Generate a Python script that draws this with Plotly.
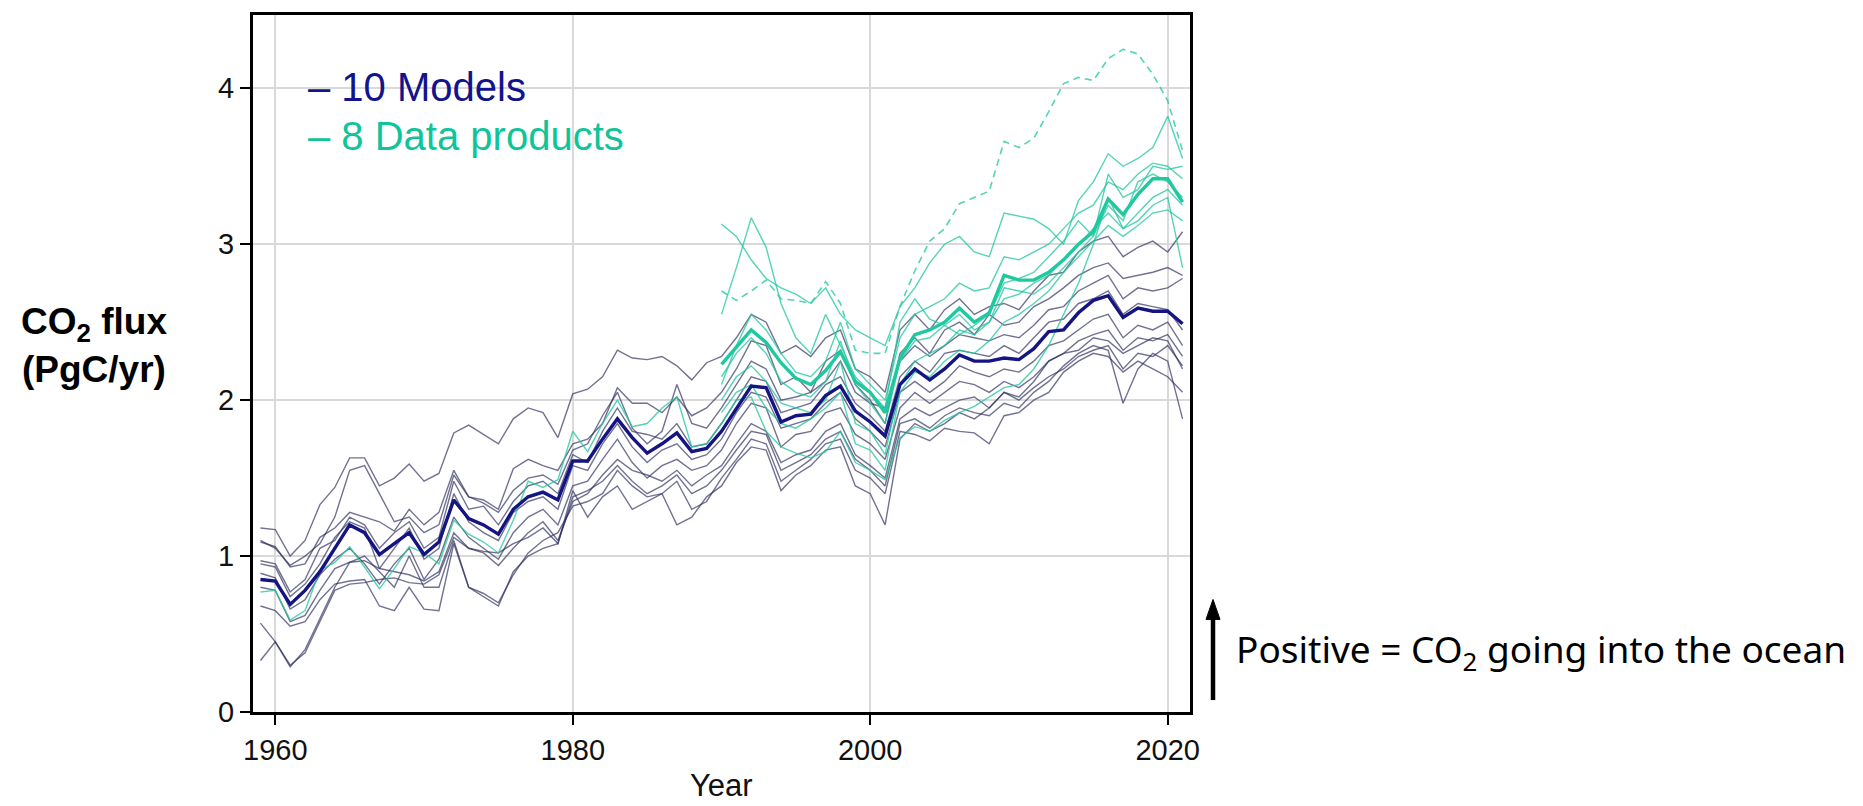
import plotly.graph_objects as go

W, H = 1863, 806
# plot area in page pixels
PL, PR, PT, PB = 253, 1190, 12, 712

years = list(range(1959, 2022))
years_dp = list(range(1990, 2022))

model_mean = [0.85, 0.84, 0.69, 0.78, 0.90, 1.05, 1.20, 1.15, 1.01, 1.08, 1.15, 1.01, 1.09, 1.36, 1.24, 1.20,
              1.14, 1.30, 1.38, 1.41, 1.36, 1.61, 1.61, 1.75, 1.88, 1.76, 1.66, 1.72, 1.79, 1.67, 1.69, 1.80,
              1.95, 2.09, 2.08, 1.86, 1.90, 1.91, 2.03, 2.09, 1.93, 1.86, 1.77, 2.10, 2.20, 2.13, 2.20, 2.29,
              2.25, 2.25, 2.27, 2.26, 2.33, 2.44, 2.45, 2.56, 2.64, 2.67, 2.53, 2.59, 2.57, 2.57, 2.49]

model_a = [1.18, 1.17, 1.00, 1.10, 1.33, 1.44, 1.63, 1.63, 1.45, 1.50, 1.59, 1.48, 1.53, 1.79, 1.84, 1.78,
           1.72, 1.88, 1.95, 1.92, 1.76, 2.04, 2.07, 2.15, 2.32, 2.27, 2.26, 2.28, 2.22, 2.13, 2.24, 2.28,
           2.40, 2.55, 2.50, 2.30, 2.35, 2.28, 2.40, 2.45, 2.20, 2.15, 2.05, 2.45, 2.55, 2.45, 2.58, 2.65,
           2.55, 2.60, 2.62, 2.58, 2.70, 2.80, 2.82, 2.95, 3.02, 3.05, 2.92, 2.98, 3.02, 2.95, 3.08]
model_b = [1.10, 1.05, 0.94, 1.00, 1.08, 1.25, 1.55, 1.58, 1.40, 1.22, 1.25, 1.15, 1.20, 1.52, 1.38, 1.36,
           1.30, 1.56, 1.62, 1.58, 1.55, 1.72, 1.75, 1.85, 2.08, 1.98, 1.98, 1.92, 2.02, 1.90, 1.95, 2.05,
           2.20, 2.38, 2.35, 2.10, 2.15, 2.05, 2.25, 2.32, 2.10, 2.00, 1.85, 2.30, 2.40, 2.30, 2.45, 2.50,
           2.42, 2.55, 2.48, 2.50, 2.60, 2.65, 2.72, 2.80, 2.85, 2.88, 2.78, 2.80, 2.82, 2.85, 2.80]
model_c = [1.09, 1.06, 0.93, 0.95, 1.12, 1.18, 1.28, 1.25, 1.22, 1.16, 1.30, 1.20, 1.28, 1.55, 1.38, 1.34,
           1.28, 1.42, 1.50, 1.52, 1.46, 1.68, 1.72, 1.90, 2.05, 1.82, 1.72, 1.80, 2.10, 1.85, 1.82, 1.95,
           2.10, 2.25, 2.20, 2.00, 2.02, 2.05, 2.12, 2.25, 2.05, 1.98, 1.95, 2.25, 2.35, 2.28, 2.35, 2.42,
           2.40, 2.38, 2.42, 2.40, 2.48, 2.58, 2.60, 2.70, 2.75, 2.80, 2.65, 2.72, 2.70, 2.72, 2.78]
model_d = [0.97, 0.95, 0.77, 0.85, 1.05, 1.10, 1.25, 1.20, 1.05, 1.15, 1.22, 1.05, 1.12, 1.48, 1.30, 1.32,
           1.20, 1.35, 1.45, 1.48, 1.40, 1.65, 1.60, 1.80, 1.95, 1.80, 1.78, 1.75, 1.85, 1.70, 1.72, 1.85,
           2.00, 2.15, 2.12, 1.92, 1.95, 1.98, 2.10, 2.15, 1.98, 1.90, 1.80, 2.15, 2.25, 2.18, 2.30, 2.32,
           2.30, 2.28, 2.35, 2.30, 2.40, 2.50, 2.52, 2.62, 2.65, 2.70, 2.55, 2.62, 2.60, 2.58, 2.45]
model_e = [0.95, 0.93, 0.74, 0.82, 0.95, 1.12, 1.22, 1.18, 0.92, 1.05, 1.18, 0.98, 1.05, 1.40, 1.22, 1.15,
           1.10, 1.28, 1.35, 1.38, 1.30, 1.58, 1.55, 1.72, 1.85, 1.70, 1.60, 1.68, 1.72, 1.62, 1.65, 1.75,
           1.92, 2.05, 2.02, 1.82, 1.85, 1.88, 1.98, 2.05, 1.88, 1.80, 1.70, 2.05, 2.12, 2.05, 2.12, 2.22,
           2.18, 2.15, 2.20, 2.18, 2.25, 2.35, 2.38, 2.45, 2.52, 2.55, 2.40, 2.48, 2.45, 2.50, 2.35]
model_f = [0.89, 0.86, 0.66, 0.72, 0.88, 0.98, 1.05, 0.95, 0.82, 0.95, 1.05, 0.85, 0.98, 1.25, 1.12, 1.05,
           0.98, 1.15, 1.25, 1.30, 1.20, 1.45, 1.48, 1.62, 1.75, 1.60, 1.50, 1.58, 1.62, 1.55, 1.58, 1.68,
           1.85, 1.98, 1.95, 1.70, 1.78, 1.80, 1.92, 1.95, 1.78, 1.72, 1.62, 1.95, 2.05, 1.98, 2.05, 2.12,
           2.10, 2.05, 2.12, 2.08, 2.15, 2.25, 2.30, 2.38, 2.42, 2.45, 2.32, 2.40, 2.38, 2.42, 2.28]
model_g = [0.80, 0.78, 0.58, 0.62, 0.78, 0.92, 0.96, 0.97, 0.92, 0.90, 0.88, 0.84, 0.90, 1.15, 1.05, 1.02,
           0.94, 1.05, 1.15, 1.22, 1.10, 1.35, 1.40, 1.52, 1.62, 1.55, 1.52, 1.48, 1.55, 1.45, 1.52, 1.58,
           1.72, 1.85, 1.80, 1.60, 1.65, 1.68, 1.80, 1.85, 1.65, 1.58, 1.50, 1.88, 1.95, 1.90, 1.95, 2.00,
           2.02, 1.95, 2.05, 2.00, 2.08, 2.15, 2.20, 2.28, 2.32, 2.35, 2.20, 2.30, 2.28, 2.35, 2.22]
model_h = [0.68, 0.65, 0.55, 0.58, 0.72, 0.82, 0.84, 0.85, 0.68, 0.65, 0.80, 0.66, 0.65, 1.08, 0.80, 0.76,
           0.70, 0.88, 1.02, 1.10, 1.15, 1.32, 1.35, 1.40, 1.55, 1.45, 1.38, 1.40, 1.48, 1.30, 1.35, 1.50,
           1.62, 1.75, 1.72, 1.48, 1.55, 1.62, 1.72, 1.75, 1.55, 1.50, 1.40, 1.80, 1.78, 1.74, 1.82, 1.80,
           1.79, 1.72, 1.90, 1.92, 2.00, 2.05, 2.18, 2.25, 2.30, 2.28, 2.18, 2.25, 2.20, 2.15, 2.05]
model_i = [0.57, 0.45, 0.30, 0.38, 0.58, 0.78, 0.82, 0.83, 0.85, 0.86, 0.83, 0.82, 0.88, 1.12, 1.05, 1.03,
           1.02, 1.08, 1.12, 1.18, 1.08, 1.38, 1.42, 1.48, 1.58, 1.48, 1.40, 1.45, 1.52, 1.40, 1.45, 1.55,
           1.68, 1.80, 1.78, 1.55, 1.60, 1.65, 1.75, 1.80, 1.62, 1.55, 1.45, 1.85, 1.88, 1.82, 1.90, 1.95,
           1.92, 1.90, 1.98, 1.95, 2.05, 2.12, 2.22, 2.30, 2.35, 2.32, 1.98, 2.20, 2.30, 2.25, 1.88]
model_j = [0.33, 0.45, 0.29, 0.40, 0.60, 0.80, 0.96, 1.00, 0.90, 0.80, 1.00, 0.80, 0.80, 1.10, 0.80, 0.74,
           0.68, 0.90, 1.00, 1.05, 1.08, 1.42, 1.25, 1.38, 1.45, 1.30, 1.35, 1.40, 1.20, 1.25, 1.38, 1.45,
           1.60, 1.70, 1.68, 1.42, 1.52, 1.58, 1.68, 1.70, 1.45, 1.40, 1.20, 1.75, 1.85, 1.80, 1.85, 1.92,
           1.88, 1.95, 2.05, 2.02, 2.12, 2.25, 2.30, 2.32, 2.40, 2.38, 2.30, 2.35, 2.40, 2.38, 2.20]

models = [model_a, model_b, model_c, model_d, model_e, model_f, model_g, model_h, model_i, model_j]

# data product with full coverage (1959-2021)
dp_full = [0.77, 0.78, 0.59, 0.65, 0.91, 0.96, 1.06, 0.93, 0.79, 0.92, 1.06, 1.02, 0.95, 1.23, 1.14, 1.09,
           1.02, 1.23, 1.48, 1.44, 1.49, 1.80, 1.67, 1.85, 2.00, 1.83, 1.85, 1.95, 2.02, 1.70, 1.72, 1.85,
           2.00, 2.02, 1.80, 1.70, 1.66, 1.63, 1.67, 1.80, 1.60, 1.55, 1.49, 1.76, 1.83, 1.80, 1.87, 1.92,
           1.96, 2.02, 2.08, 2.10, 2.20, 2.35, 2.55, 2.75, 3.00, 3.30, 3.10, 3.20, 3.30, 3.35, 3.25]

# data products 1990-2021
dp_dashed = [2.70, 2.64, 2.70, 2.77, 2.65, 2.64, 2.62, 2.76, 2.62, 2.32, 2.30, 2.30, 2.60, 2.83, 3.02, 3.10,
             3.26, 3.30, 3.34, 3.66, 3.62, 3.68, 3.85, 4.03, 4.07, 4.05, 4.19, 4.25, 4.22, 4.09, 3.92, 3.60]
dp_b = [3.13, 3.05, 2.90, 2.78, 2.72, 2.68, 2.62, 2.72, 2.55, 2.45, 2.40, 2.35, 2.60, 2.72, 2.88, 3.00,
        3.05, 2.95, 2.92, 3.20, 3.18, 3.16, 3.10, 3.00, 3.28, 3.40, 3.58, 3.50, 3.55, 3.62, 3.82, 3.55]
dp_c = [2.55, 2.85, 3.17, 2.98, 2.62, 2.40, 2.30, 2.55, 2.35, 2.15, 2.05, 1.95, 2.50, 2.65, 2.52, 2.48,
        2.42, 2.48, 2.55, 2.75, 2.78, 2.82, 2.92, 3.02, 3.15, 3.05, 3.45, 3.30, 3.35, 3.50, 3.48, 3.50]
dp_d = [2.15, 2.30, 2.40, 2.30, 2.12, 2.05, 2.02, 2.12, 2.38, 2.10, 1.98, 1.85, 2.25, 2.38, 2.40, 2.48,
        2.55, 2.45, 2.50, 2.72, 2.70, 2.68, 2.75, 2.85, 2.95, 3.05, 3.25, 3.15, 3.40, 3.45, 3.40, 3.30]
dp_e = [2.00, 2.15, 2.22, 2.12, 1.98, 1.95, 1.92, 2.00, 2.25, 1.85, 1.80, 1.65, 2.10, 2.25, 2.30, 2.35,
        2.45, 2.42, 2.50, 2.65, 2.68, 2.75, 2.80, 2.90, 3.00, 3.10, 3.20, 3.10, 3.15, 3.25, 3.30, 2.85]
dp_f = [1.92, 2.05, 2.10, 1.95, 1.85, 1.82, 1.88, 1.95, 2.05, 1.72, 1.68, 1.55, 2.05, 2.18, 2.15, 2.25,
        2.32, 2.30, 2.38, 2.50, 2.55, 2.62, 2.70, 2.82, 2.92, 3.02, 3.12, 3.05, 3.12, 3.20, 3.22, 3.15]
dp_g = [2.10, 2.35, 2.55, 2.45, 2.30, 2.18, 2.15, 2.25, 2.50, 2.20, 2.10, 2.00, 2.40, 2.55, 2.60, 2.65,
        2.75, 2.70, 2.72, 2.92, 2.90, 2.95, 3.00, 3.10, 3.20, 3.25, 3.40, 3.35, 3.45, 3.52, 3.50, 3.42]
dp_partial = [dp_b, dp_c, dp_d, dp_e, dp_f, dp_g]

dp_mean = [2.23, 2.34, 2.45, 2.37, 2.24, 2.14, 2.10, 2.19, 2.31, 2.12, 2.05, 1.92, 2.27, 2.42, 2.45, 2.50,
           2.59, 2.50, 2.56, 2.80, 2.77, 2.77, 2.82, 2.90, 3.00, 3.08, 3.29, 3.19, 3.32, 3.42, 3.42, 3.27]

x_ticks = [1960, 1980, 2000, 2020]
y_ticks = [0, 1, 2, 3, 4]

MODEL_THIN = "rgba(45,45,95,0.68)"
MODEL_MEAN = "#141482"
DP_THIN = "rgba(35,200,160,0.78)"
DP_MEAN = "#1ec9a0"


def px(xp):
    return (xp - PL) / (PR - PL)


def py(yp):
    return (PB - yp) / (PB - PT)


fig = go.Figure()
for m in models:
    fig.add_trace(go.Scatter(x=years, y=m, mode="lines", line=dict(color=MODEL_THIN, width=1.4),
                             hoverinfo="skip"))
fig.add_trace(go.Scatter(x=years, y=dp_full, mode="lines", line=dict(color=DP_THIN, width=1.4)))
for d in dp_partial:
    fig.add_trace(go.Scatter(x=years_dp, y=d, mode="lines", line=dict(color=DP_THIN, width=1.4)))
fig.add_trace(go.Scatter(x=years_dp, y=dp_dashed, mode="lines",
                         line=dict(color=DP_THIN, width=1.6, dash="7px,5px")))
fig.add_trace(go.Scatter(x=years, y=model_mean, mode="lines", line=dict(color=MODEL_MEAN, width=3.4)))
fig.add_trace(go.Scatter(x=years_dp, y=dp_mean, mode="lines", line=dict(color=DP_MEAN, width=3.4)))

axis_common = dict(showline=True, linewidth=3, linecolor="black", mirror=True,
                   ticks="outside", ticklen=10, tickwidth=2, tickcolor="black",
                   showgrid=True, gridcolor="#d9d9d9", gridwidth=2, zeroline=False,
                   tickfont=dict(family="Liberation Sans, Arial, sans-serif", size=29, color="#111111"))

fig.update_layout(
    width=W, height=H, autosize=False,
    margin=dict(l=PL, r=W - PR, t=PT, b=H - PB, pad=0),
    paper_bgcolor="white", plot_bgcolor="white", showlegend=False,
    xaxis=dict(range=[1958.5, 2021.5], tickvals=x_ticks, ticktext=[str(v) for v in x_ticks], **axis_common),
    yaxis=dict(range=[0, 4.47], tickvals=y_ticks, ticktext=[str(v) for v in y_ticks], **axis_common),
)

# white legend box covering grid lines
fig.add_shape(type="rect", xref="paper", yref="paper", x0=px(286), x1=px(652), y0=py(166), y1=py(47),
              fillcolor="white", line=dict(width=0), layer="between")

# upward arrow right of the plot
ax_x = px(1213)
fig.add_shape(type="line", xref="paper", yref="paper", x0=ax_x, x1=ax_x, y0=py(700), y1=py(616),
              line=dict(color="black", width=4.5))
fig.add_shape(type="path", xref="paper", yref="paper",
              path=f"M {px(1206)} {py(619)} L {px(1220)} {py(619)} L {ax_x} {py(599)} Z",
              fillcolor="black", line=dict(color="black", width=1))

ann = []
ann.append(dict(text="– 10 Models", x=px(306), y=py(84), xanchor="left", yanchor="middle",
                font=dict(family="Liberation Sans, Arial, sans-serif", size=40, color="#13138c")))
ann.append(dict(text="– 8 Data products", x=px(306), y=py(134), xanchor="left", yanchor="middle",
                font=dict(family="Liberation Sans, Arial, sans-serif", size=40, color="#10c49a")))
ann.append(dict(text="<b>CO<sub>2</sub> flux</b>", x=px(94), y=py(322), xanchor="center", yanchor="middle",
                font=dict(family="Liberation Sans, Arial, sans-serif", size=37, color="black")))
ann.append(dict(text="<b>(PgC/yr)</b>", x=px(94), y=py(368), xanchor="center", yanchor="middle",
                font=dict(family="Liberation Sans, Arial, sans-serif", size=37, color="black")))
ann.append(dict(text="Year", x=px(721), y=py(786), xanchor="center", yanchor="middle",
                font=dict(family="Liberation Sans, Arial, sans-serif", size=31, color="#111111")))
ann.append(dict(text="Positive = CO<sub>2</sub> going into the ocean", x=px(1234), y=py(651),
                xanchor="left", yanchor="middle",
                font=dict(family="Noto Sans, Open Sans, sans-serif", size=37, color="black")))
for a in ann:
    a["showarrow"] = False
    a["xref"] = "paper"
    a["yref"] = "paper"
    fig.add_annotation(**a)

fig.write_html("out.html")
